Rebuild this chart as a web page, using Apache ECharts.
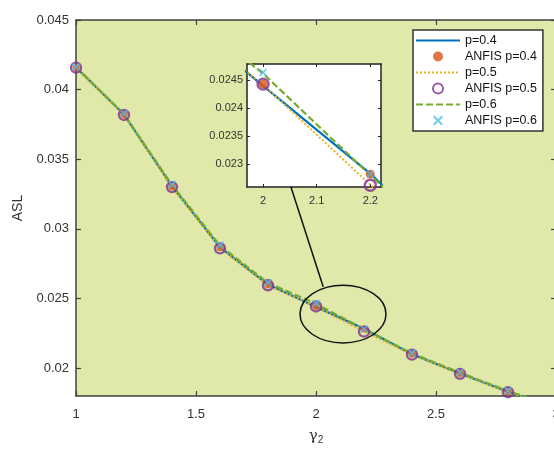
<!DOCTYPE html>
<html>
<head>
<meta charset="utf-8">
<script src="https://cdn.jsdelivr.net/npm/echarts@6.0.0/dist/echarts.min.js"></script>
<style>
html,body{margin:0;padding:0;background:#fff;}
#main{width:554px;height:450px;}
</style>
</head>
<body>
<div id="main"></div>
<script>
// gamma_2 values
var gamma2 = [1, 1.2, 1.4, 1.6, 1.8, 2, 2.2, 2.4, 2.6, 2.8, 3];
// ASL curves
var aslP04 = [0.04160, 0.03821, 0.03306, 0.02868, 0.02600, 0.02440, 0.02283, 0.02100, 0.01962, 0.01830, 0.01715];
var aslP05 = [0.04158, 0.03819, 0.03302, 0.02862, 0.02594, 0.02442, 0.02263, 0.02098, 0.01960, 0.01828, 0.01712];
var aslP06 = [0.04162, 0.03824, 0.03316, 0.02880, 0.02612, 0.02462, 0.02280, 0.02106, 0.01968, 0.01836, 0.01720];
// ANFIS points
var anfisP04 = [0.04158, 0.03819, 0.03303, 0.02864, 0.02598, 0.02443, 0.02282, 0.02099, 0.01961, 0.01829, 0.01714];
var anfisP05 = [0.04158, 0.03818, 0.03300, 0.02860, 0.02595, 0.02443, 0.02262, 0.02097, 0.01959, 0.01827, 0.01712];
var anfisP06 = [0.04163, 0.03826, 0.03318, 0.02882, 0.02614, 0.02464, 0.02282, 0.02107, 0.01969, 0.01837, 0.01721];
// tick labels
var mainYTicks = [0.02, 0.025, 0.03, 0.035, 0.04, 0.045];
var insetXTicks = [2, 2.1, 2.2];
var insetYTicks = [0.023, 0.0235, 0.024, 0.0245];

var FONT = 'Liberation Sans, Arial, sans-serif';
var AXIS_COLOR = '#404040';
var CROSS = 'path://M1.5,0 L5,3.5 L8.5,0 L10,1.5 L6.5,5 L10,8.5 L8.5,10 L5,6.5 L1.5,10 L0,8.5 L3.5,5 L0,1.5 Z';

function pairs(ys){
    var out = [];
    for (var i = 0; i < gamma2.length; i++) out.push([gamma2[i], ys[i]]);
    return out;
}

// 一组曲线+点（主图和小图各一份）
function makeSeries(ax){
    var inset = ax == 2;
    var z = inset ? 8 : 2;
    return [
        {name:'p=0.4', type:'line', xAxisIndex:ax, yAxisIndex:ax, z:z, data:pairs(aslP04), symbol:'none', clip:true,
         lineStyle:{color:'#0072BD', width:2.2, type:'solid'}, itemStyle:{color:'#0072BD'}},
        {name:'ANFIS p=0.4', type:'scatter', xAxisIndex:ax, yAxisIndex:ax, z:z, data:pairs(anfisP04), symbol:'circle', clip:true,
         symbolSize: inset ? 9 : 7, itemStyle:{color:'#D95319'}},
        {name:'p=0.5', type:'line', xAxisIndex:ax, yAxisIndex:ax, z:z, data:pairs(aslP05), symbol:'none', clip:true,
         lineStyle:{color:'#EDB120', width:2, type:[2,2]}, itemStyle:{color:'#EDB120'}},
        {name:'ANFIS p=0.5', type:'scatter', xAxisIndex:ax, yAxisIndex:ax, z:z, data:pairs(anfisP05), symbol:'circle', clip:true,
         symbolSize: inset ? 11 : 10, itemStyle:{color:'rgba(0,0,0,0)', borderColor:'#7E2F8E', borderWidth:2.4}},
        {name:'p=0.6', type:'line', xAxisIndex:ax, yAxisIndex:ax, z:z, data:pairs(aslP06), symbol:'none', clip:true,
         lineStyle:{color:'#77AC30', width:2.2, type:[7,3]}, itemStyle:{color:'#77AC30'}},
        {name:'ANFIS p=0.6', type:'scatter', xAxisIndex:ax, yAxisIndex:ax, z:z, data:pairs(anfisP06), symbol:CROSS, clip:true,
         symbolSize: 8, itemStyle:{color:'#4DBEEE'}}
    ];
}

function boxAxis(extra){
    var base = {
        axisLine:{show:true, onZero:false, lineStyle:{color:AXIS_COLOR, width:1.5}},
        axisTick:{show:true, inside:true, length:5, lineStyle:{color:AXIS_COLOR, width:1.2}},
        splitLine:{show:false},
        axisLabel:{show:false}
    };
    for (var k in extra) base[k] = extra[k];
    return base;
}

var hideSym = {color:'rgba(0,0,0,0)', borderWidth:0, opacity:0};

var chart = echarts.init(document.getElementById('main'));
var option = {
    backgroundColor:'#ffffff',
    animation:false,
    textStyle:{fontFamily:FONT},
    grid:[
        {left:76, top:20, width:480, height:376, show:true, backgroundColor:'#e0e9a9', borderWidth:0,
         containLabel:false, outerBoundsMode:'none'},
        {left:247, top:64, width:134, height:123, show:true, backgroundColor:'#ffffff', borderWidth:0,
         containLabel:false, outerBoundsMode:'none', z:5}
    ],
    xAxis:[
        boxAxis({type:'value', gridIndex:0, position:'bottom', min:1, max:3, interval:0.5,
            axisLabel:{show:true, color:'#333', fontSize:13, margin:12, fontFamily:FONT},
            name:'{g|γ}{s|2}', nameLocation:'middle', nameGap:31,
            nameTextStyle:{rich:{g:{fontSize:15, color:'#333', fontFamily:'DejaVu Serif'}, s:{fontSize:10, color:'#333', padding:[8,0,0,0]}}}}),
        boxAxis({type:'value', gridIndex:0, position:'top', min:1, max:3, interval:0.5}),
        boxAxis({type:'value', gridIndex:1, position:'bottom', min:1.97, max:2.22, z:6,
            axisLine:{show:true, onZero:false, lineStyle:{color:'#222', width:1.5}},
            axisTick:{show:true, inside:true, length:3, customValues:insetXTicks, lineStyle:{color:'#222'}},
            axisLabel:{show:true, color:'#333', fontSize:11, margin:8, customValues:insetXTicks, fontFamily:FONT}}),
        boxAxis({type:'value', gridIndex:1, position:'top', min:1.97, max:2.22, z:6,
            axisLine:{show:true, onZero:false, lineStyle:{color:'#222', width:1.5}},
            axisTick:{show:true, inside:true, length:3, customValues:insetXTicks, lineStyle:{color:'#222'}}})
    ],
    yAxis:[
        boxAxis({type:'value', gridIndex:0, position:'left', min:0.018, max:0.045,
            axisTick:{show:true, inside:true, length:5, customValues:mainYTicks, lineStyle:{color:AXIS_COLOR, width:1.2}},
            axisLabel:{show:true, color:'#333', fontSize:13, margin:7, customValues:mainYTicks, fontFamily:FONT,
                formatter:function(v){ return String(+v.toFixed(4)); }},
            name:'ASL', nameLocation:'middle', nameGap:47, nameRotate:90,
            nameTextStyle:{fontSize:14, color:'#333'}}),
        boxAxis({type:'value', gridIndex:0, position:'right', min:0.018, max:0.045,
            axisTick:{show:true, inside:true, length:5, customValues:mainYTicks, lineStyle:{color:AXIS_COLOR, width:1.2}}}),
        boxAxis({type:'value', gridIndex:1, position:'left', min:0.02259, max:0.02479, z:6,
            axisLine:{show:true, onZero:false, lineStyle:{color:'#222', width:1.5}},
            axisTick:{show:true, inside:true, length:3, customValues:insetYTicks, lineStyle:{color:'#222'}},
            axisLabel:{show:true, color:'#333', fontSize:11, margin:4, customValues:insetYTicks, fontFamily:FONT,
                formatter:function(v){ return String(+v.toFixed(5)); }}}),
        boxAxis({type:'value', gridIndex:1, position:'right', min:0.02259, max:0.02479, z:6,
            axisLine:{show:true, onZero:false, lineStyle:{color:'#222', width:1.5}},
            axisTick:{show:true, inside:true, length:3, customValues:insetYTicks, lineStyle:{color:'#222'}}})
    ],
    legend:{
        orient:'vertical', left:413, top:30,
        backgroundColor:'#ffffff', borderColor:'#333', borderWidth:1.5,
        padding:[4,6,4,2], itemWidth:44, itemHeight:10, itemGap:3,
        textStyle:{fontSize:12.5, color:'#111', fontFamily:FONT},
        data:[
            {name:'p=0.4', itemStyle:hideSym},
            'ANFIS p=0.4',
            {name:'p=0.5', itemStyle:hideSym},
            'ANFIS p=0.5',
            {name:'p=0.6', itemStyle:hideSym},
            'ANFIS p=0.6'
        ]
    },
    series:[].concat(makeSeries(0), makeSeries(2))
};
chart.setOption(option);

// 放大圈 + 引线
var c = chart.convertToPixel({xAxisIndex:0, yAxisIndex:0}, [2.1125, 0.02388]);
var e1 = chart.convertToPixel({xAxisIndex:0, yAxisIndex:0}, [2.2917, 0.02595]);
var lineStart = chart.convertToPixel({xAxisIndex:0, yAxisIndex:0}, [2.03, 0.02585]);
var lineEnd = chart.convertToPixel({xAxisIndex:2, yAxisIndex:2}, [2.052, 0.02259]);
chart.setOption({
    graphic:[
        {type:'ellipse', z:20, shape:{cx:c[0], cy:c[1], rx:e1[0]-c[0], ry:c[1]-e1[1]},
         style:{fill:null, stroke:'#111', lineWidth:1.5}},
        {type:'line', z:20, shape:{x1:lineStart[0], y1:lineStart[1], x2:lineEnd[0], y2:lineEnd[1]},
         style:{stroke:'#111', lineWidth:1.5}}
    ]
});
</script>
</body>
</html>
